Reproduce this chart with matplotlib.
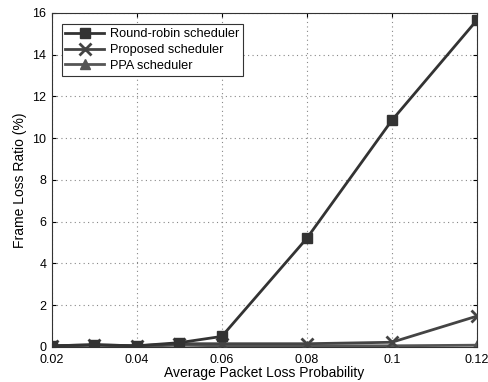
import matplotlib
matplotlib.use("Agg")
import matplotlib.pyplot as plt

plt.rcParams["font.family"] = ["Liberation Sans", "DejaVu Sans"]

loss_prob = [0.02, 0.03, 0.04, 0.05, 0.06, 0.08, 0.1, 0.12]
round_robin = [0.05, 0.1, 0.05, 0.2, 0.5, 5.2, 10.85, 15.65]
proposed = [0.05, 0.1, 0.05, 0.15, 0.15, 0.15, 0.22, 1.47]
ppa = [0.03, 0.08, 0.03, 0.08, 0.05, 0.05, 0.05, 0.08]

x_ticks = [0.02, 0.04, 0.06, 0.08, 0.1, 0.12]
x_labels = ["0.02", "0.04", "0.06", "0.08", "0.1", "0.12"]
y_ticks = [0, 2, 4, 6, 8, 10, 12, 14, 16]

fig = plt.figure(figsize=(4.89, 3.82), dpi=100)
ax = fig.add_axes([0.106, 0.092, 0.869, 0.874])

ax.plot(loss_prob, round_robin, color="#333333", lw=2, marker="s", ms=6.5,
        label="Round-robin scheduler", zorder=4)
ax.plot(loss_prob, proposed, color="#444444", lw=2, marker="x", ms=8, mew=2,
        label="Proposed scheduler", zorder=3)
ax.plot(loss_prob, ppa, color="#555555", lw=2, marker="^", ms=7,
        label="PPA scheduler", zorder=2)

ax.set_xlim(0.02, 0.12)
ax.set_ylim(0, 16)
ax.set_xticks(x_ticks)
ax.set_xticklabels(x_labels)
ax.set_yticks(y_ticks)
ax.tick_params(direction="in", top=True, right=True, labelsize=9, length=3)
ax.tick_params(axis="x", pad=5)
ax.tick_params(axis="y", pad=4)
ax.grid(True, linestyle=(0, (1, 3)), color="#888888", linewidth=0.8)
for s in ax.spines.values():
    s.set_color("#333333")

ax.set_xlabel("Average Packet Loss Probability", fontsize=10, labelpad=0)
ax.set_ylabel("Frame Loss Ratio (%)", fontsize=10)

leg = ax.legend(loc="upper left", fontsize=9.2, fancybox=False, framealpha=1,
                edgecolor="#333333", handlelength=3.0, borderpad=0.3,
                labelspacing=0.3, handletextpad=0.5,
                bbox_to_anchor=(0.008, 0.985))
leg.get_frame().set_linewidth(0.8)

fig.savefig("out.png", dpi=100)
